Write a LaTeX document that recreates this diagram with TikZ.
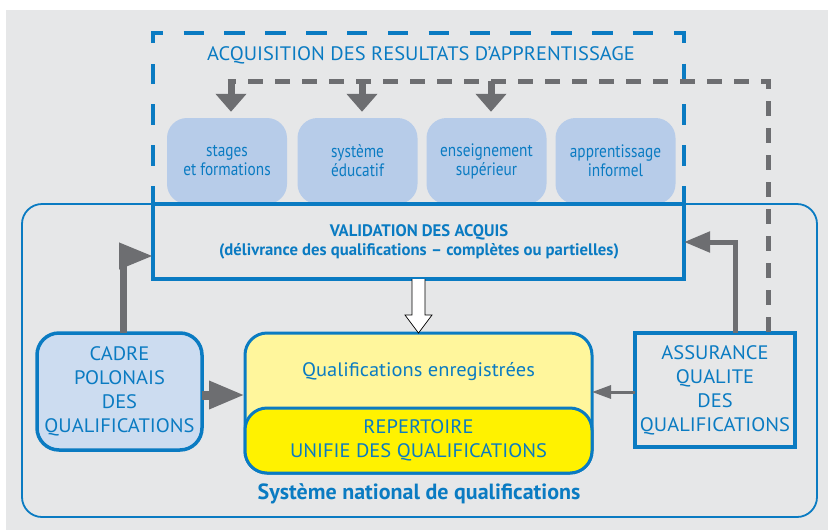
\documentclass[tikz,border=0pt]{standalone}
\usepackage{fontspec}
\setmainfont{PT Sans}
\newfontfamily\condf[FakeStretch=0.85]{PT Sans}
\newfontfamily\widef[FakeStretch=1.05]{PT Sans}
\usetikzlibrary{arrows.meta}
\definecolor{bg}{HTML}{E6E7E8}
\definecolor{mblue}{HTML}{0A7BC2}
\definecolor{lblue}{HTML}{B7CCE9}
\definecolor{cblue}{HTML}{CCDCF0}
\definecolor{agray}{HTML}{6D6E71}
\definecolor{lyel}{HTML}{FFF69C}
\definecolor{yel}{HTML}{FFF200}
\begin{document}
\begin{tikzpicture}[x=1pt,y=-1pt,
  srcbox/.style={rounded corners=20pt, fill=lblue, minimum width=120pt, minimum height=86pt, inner sep=0pt,
    font=\condf\fontsize{18}{19}\selectfont, text=mblue, align=center},
  bigtxt/.style={font=\widef\fontsize{19.5}{24}\selectfont, text=mblue, align=center},
  garrow/.style={draw=agray, line width=#1},
]
\useasboundingbox (0,0) rectangle (828,531);
\fill[bg] (6,10) rectangle (828,530);

% system frame
\node[draw=mblue, line width=1.8pt, rounded corners=20pt, minimum width=795pt, minimum height=313pt, inner sep=0pt] (sys) at (419.5,360.5) {};
\node[font=\bfseries\fontsize{22}{24}\selectfont, text=mblue] (syslab) at (419,494) {Système national de qualifications};

% source boxes
\node[srcbox] (s1) at (227,161) {stages\\et formations};
\node[srcbox] (s2) at (357.5,161) {système\\éducatif};
\node[srcbox] (s3) at (486.5,161) {enseignement\\supérieur};
\node[srcbox] (s4) at (615.5,161) {apprentissage\\informel};

% acquisition dashed frame
\coordinate (d1) at (153,204);
\coordinate (d2) at (153,33);
\coordinate (d3) at (684,33);
\coordinate (d4) at (684,204);
\draw[mblue, line width=4.5pt, dash pattern=on 20.423pt off 20.423pt, dash phase=2.6pt] (d1) -- (d2) -- (d3) -- (d4);
\node[font=\widef\fontsize{19.5}{22}\selectfont, text=mblue] (acq) at (421,55) {ACQUISITION DES RESULTATS D’APPRENTISSAGE};

% validation box
\node[draw=mblue, line width=4.5pt, minimum width=531pt, minimum height=75pt, inner sep=0pt, outer sep=0pt] (val) at (418.5,241.5) {};
\node[font=\bfseries\fontsize{16.7}{19}\selectfont, text=mblue, align=center] (valtxt) at (419,241.5) {VALIDATION DES ACQUIS\\(délivrance des qualifications – complètes ou partielles)};

% qualifications
\node[draw=mblue, line width=3pt, fill=lyel, rounded corners=22pt, minimum width=347pt, minimum height=140pt, inner sep=0pt, outer sep=0pt] (qual) at (418.5,403) {};
\node[font=\widef\fontsize{19.5}{22}\selectfont, text=mblue] (qualtxt) at (418.5,372) {Qualifications enregistrées};
\node[draw=mblue, line width=3pt, fill=yel, rounded corners=22pt, minimum width=347pt, minimum height=65pt, inner sep=0pt, outer sep=0pt, bigtxt] (rep) at (418.5,440.5) {REPERTOIRE\\UNIFIE DES QUALIFICATIONS};

% cadre
\node[draw=mblue, line width=3.5pt, fill=cblue, rounded corners=22pt, minimum width=165pt, minimum height=117pt, inner sep=0pt, outer sep=0pt, bigtxt] (cadre) at (119.5,391.5) {CADRE\\POLONAIS\\DES\\QUALIFICATIONS};

% assurance
\node[draw=mblue, line width=3.5pt, minimum width=160pt, minimum height=114pt, inner sep=0pt, outer sep=0pt, bigtxt] (assur) at (715,390) {ASSURANCE\\QUALITE\\DES\\QUALIFICATIONS};

% gray dashed feedback line
\coordinate (g0) at (227.5,81);
\coordinate (g1) at (768,81);
\draw[agray, line width=5pt, dash pattern=on 15pt off 12pt, dash phase=6.5pt] (g0) -- (g1) -- (g1 |- assur.north);

% down arrows
\coordinate (a1) at (231,81);
\coordinate (a2) at (362,81);
\coordinate (a3) at (491,81);
\foreach \a/\s in {a1/s1,a2/s2,a3/s3}
  \draw[garrow=7pt, -{Triangle[length=18pt,width=30pt]}, agray] (\a) -- ([yshift=6pt]\a |- \s.north);

% cadre up arrow
\coordinate (cu) at (123,0);
\coordinate (cv) at (0,256);
\draw[garrow=7pt, -{Triangle[length=34pt,width=25pt]}, agray] (cu |- cadre.north) |- (val.west |- cv);

% cadre -> qualifications
\coordinate (cq) at (0,395);
\draw[garrow=9pt, -{Triangle[length=36pt,width=26pt]}, agray] (cadre.east |- cq) -- (qual.west |- cq);

% assurance up arrow
\coordinate (au) at (735,0);
\coordinate (av) at (0,242);
\draw[garrow=5pt, -{Triangle[length=26pt,width=20pt]}, agray] (au |- assur.north) |- (val.east |- av);

% assurance -> qualifications
\coordinate (aq) at (0,392);
\draw[garrow=3pt, -{Triangle[length=19pt,width=13pt]}, agray] (assur.west |- aq) -- (qual.east |- aq);

% white arrow
\draw[fill=white, draw=black, line width=0.7pt]
  ([xshift=-6.5pt]val.south) -- ([xshift=-6.5pt,yshift=-36pt]val.south) -- ([xshift=-13.5pt,yshift=-36pt]val.south)
  -- (val.south |- qual.north) -- ([xshift=13.5pt,yshift=-36pt]val.south) -- ([xshift=6.5pt,yshift=-36pt]val.south)
  -- ([xshift=6.5pt]val.south);
\end{tikzpicture}
\end{document}
